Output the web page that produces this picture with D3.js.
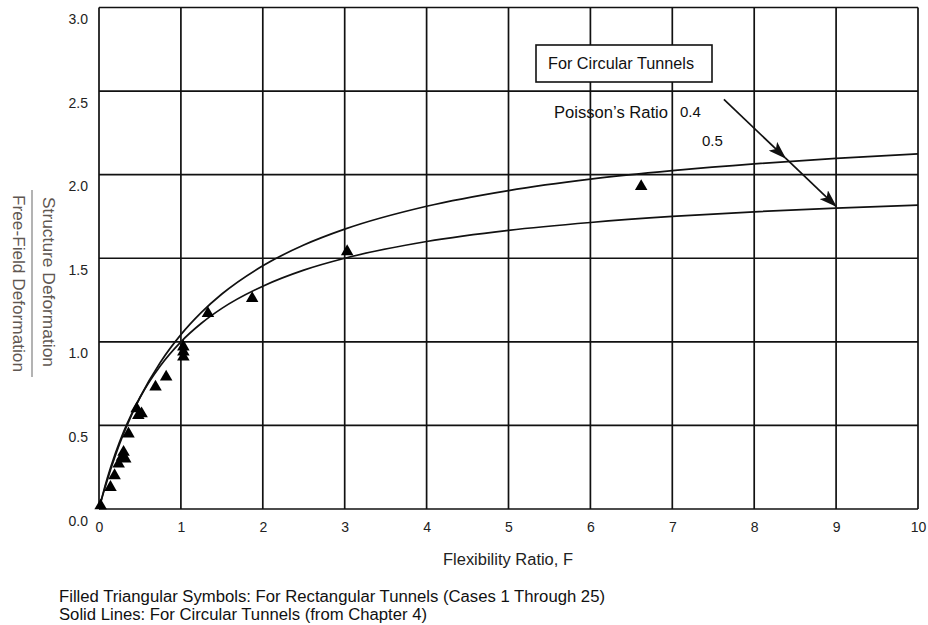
<!DOCTYPE html>
<html>
<head>
<meta charset="utf-8">
<script src="https://cdn.jsdelivr.net/npm/d3@7"></script>
<style>
  html, body { margin: 0; padding: 0; background: #fff; }
  svg { display: block; font-family: "Liberation Sans", Arial, sans-serif; }
</style>
</head>
<body>
<svg id="chart" width="928" height="625"></svg>
<script>
// ---- Data ----
const xTicks = [0, 1, 2, 3, 4, 5, 6, 7, 8, 9, 10];
const yTicks = [0, 0.5, 1.0, 1.5, 2.0, 2.5, 3.0];
const yTickLabels = ["0.0", "0.5", "1.0", "1.5", "2.0", "2.5", "3.0"];

// Circular tunnel curves (flexibility ratio F vs deformation ratio)
const curveF    = [0, 0.05, 0.1, 0.2, 0.3, 0.4, 0.5, 0.75, 1, 1.25, 1.5, 2, 2.5, 3, 4, 5, 6, 7, 8, 9, 10];
const poisson04 = [0, 0.089, 0.171, 0.32, 0.45, 0.565, 0.667, 0.878, 1.043, 1.176, 1.286, 1.455, 1.579, 1.674, 1.811, 1.905, 1.973, 2.024, 2.065, 2.097, 2.124];
const poisson05 = [0, 0.095, 0.182, 0.333, 0.462, 0.571, 0.667, 0.857, 1.0, 1.111, 1.2, 1.333, 1.429, 1.5, 1.6, 1.667, 1.714, 1.75, 1.778, 1.8, 1.818];

// Rectangular tunnel cases (filled triangles)
const caseF     = [0.02, 0.14, 0.19, 0.24, 0.28, 0.30, 0.32, 0.36, 0.46, 0.48, 0.52, 0.69, 0.82, 1.03, 1.03, 1.03, 1.33, 1.87, 3.03, 6.62];
const caseRatio = [0.02, 0.13, 0.20, 0.27, 0.31, 0.34, 0.30, 0.45, 0.60, 0.56, 0.57, 0.73, 0.79, 0.91, 0.94, 0.97, 1.17, 1.26, 1.54, 1.93];

// Arrow annotation (start, tip on ν=0.4 curve, tip on ν=0.5 curve)
const arrowStart = [7.63, 2.45];
const arrowTips  = [[8.38, 2.10], [9.0, 1.81]];

// ---- Drawing ----
const svg = d3.select("#chart");
const x = d3.scaleLinear().domain([0, 10]).range([99, 918]);
const y = d3.scaleLinear().domain([0, 3]).range([509, 7.5]);
const ink = "#111";

// grid
const g = svg.append("g");
g.selectAll("line.v").data(xTicks).join("line")
  .attr("x1", d => x(d)).attr("x2", d => x(d))
  .attr("y1", y(0)).attr("y2", y(3))
  .attr("stroke", ink).attr("stroke-width", 1.7);
g.selectAll("line.h").data(yTicks).join("line")
  .attr("y1", d => y(d)).attr("y2", d => y(d))
  .attr("x1", x(0)).attr("x2", x(10))
  .attr("stroke", ink).attr("stroke-width", 1.7);

// axes labels via d3 axes (no domain / tick lines)
const xAxis = svg.append("g").attr("transform", `translate(0,${y(0)})`)
  .call(d3.axisBottom(x).tickValues(xTicks).tickFormat(d3.format("d")).tickSize(0).tickPadding(13));
xAxis.select(".domain").remove();
xAxis.selectAll("text").attr("font-size", 14).attr("fill", "#222")
  .attr("font-family", "Liberation Sans, Arial, sans-serif");

const yAxis = svg.append("g").attr("transform", `translate(${x(0)},0)`)
  .call(d3.axisLeft(y).tickValues(yTicks).tickFormat((d, i) => yTickLabels[i]).tickSize(0).tickPadding(11));
yAxis.select(".domain").remove();
yAxis.selectAll("text").attr("font-size", 14).attr("fill", "#222").attr("dy", "1.15em")
  .attr("font-family", "Liberation Sans, Arial, sans-serif");

// curves
const line = d3.line().x(d => x(d[0])).y(d => y(d[1])).curve(d3.curveMonotoneX);
[poisson04, poisson05].forEach(vals => {
  svg.append("path")
    .datum(curveF.map((f, i) => [f, vals[i]]))
    .attr("d", line)
    .attr("fill", "none").attr("stroke", ink).attr("stroke-width", 1.7);
});

// triangles
const tri = d3.symbol().type(d3.symbolTriangle).size(68);
svg.selectAll("path.tri").data(caseF.map((f, i) => [f, caseRatio[i]])).join("path")
  .attr("class", "tri")
  .attr("d", tri)
  .attr("transform", d => `translate(${x(d[0])},${y(d[1])})`)
  .attr("fill", "#000");

// arrow
const defs = svg.append("defs");
defs.append("marker").attr("id", "ah")
  .attr("markerUnits", "userSpaceOnUse")
  .attr("markerWidth", 18).attr("markerHeight", 12)
  .attr("viewBox", "0 0 18 12").attr("refX", 17).attr("refY", 6)
  .attr("orient", "auto")
  .append("path").attr("d", "M0,0 L18,6 L0,12 L4,6 Z").attr("fill", ink);

let prev = arrowStart;
arrowTips.forEach(t => {
  svg.append("line")
    .attr("x1", x(prev[0])).attr("y1", y(prev[1]))
    .attr("x2", x(t[0])).attr("y2", y(t[1]))
    .attr("stroke", ink).attr("stroke-width", 1.7)
    .attr("marker-end", "url(#ah)");
  prev = t;
});

// legend box
svg.append("rect").attr("x", 536).attr("y", 45).attr("width", 176).attr("height", 37)
  .attr("fill", "#fff").attr("stroke", ink).attr("stroke-width", 1.6);
svg.append("text").attr("x", 548).attr("y", 69).attr("font-size", 16).attr("fill", "#111")
  .attr("textLength", 146).attr("lengthAdjust", "spacingAndGlyphs")
  .text("For Circular Tunnels");

svg.append("text").attr("x", 554).attr("y", 118).attr("font-size", 16).attr("fill", "#111")
  .attr("textLength", 114).attr("lengthAdjust", "spacingAndGlyphs")
  .text("Poisson\u2019s Ratio");
svg.append("text").attr("x", 680).attr("y", 117).attr("font-size", 15).attr("fill", "#111")
  .text("0.4");
svg.append("text").attr("x", 702).attr("y", 146).attr("font-size", 15).attr("fill", "#111")
  .text("0.5");

// x axis title
svg.append("text").attr("x", 508).attr("y", 565).attr("text-anchor", "middle")
  .attr("font-size", 16).attr("fill", "#222")
  .attr("textLength", 130).attr("lengthAdjust", "spacingAndGlyphs")
  .text("Flexibility Ratio, F");

// y axis title (fraction)
const yLabColor = "#5f5752";
svg.append("text").attr("transform", "translate(48,282) rotate(90)")
  .attr("text-anchor", "middle").attr("dominant-baseline", "central")
  .attr("font-size", 17).attr("fill", yLabColor)
  .attr("textLength", 170).attr("lengthAdjust", "spacingAndGlyphs")
  .text("Structure Deformation");
svg.append("line").attr("x1", 32).attr("x2", 32).attr("y1", 190).attr("y2", 377)
  .attr("stroke", "#9a9a9a").attr("stroke-width", 1.5);
svg.append("text").attr("transform", "translate(18,283.5) rotate(90)")
  .attr("text-anchor", "middle").attr("dominant-baseline", "central")
  .attr("font-size", 17).attr("fill", yLabColor)
  .attr("textLength", 177).attr("lengthAdjust", "spacingAndGlyphs")
  .text("Free-Field Deformation");

// captions
svg.append("text").attr("x", 59).attr("y", 602).attr("font-size", 16).attr("fill", "#111")
  .attr("textLength", 546).attr("lengthAdjust", "spacingAndGlyphs")
  .text("Filled Triangular Symbols:  For Rectangular Tunnels (Cases 1 Through 25)");
svg.append("text").attr("x", 59).attr("y", 620).attr("font-size", 16).attr("fill", "#111")
  .attr("textLength", 368).attr("lengthAdjust", "spacingAndGlyphs")
  .text("Solid Lines:  For Circular Tunnels (from Chapter 4)");
</script>
</body>
</html>
